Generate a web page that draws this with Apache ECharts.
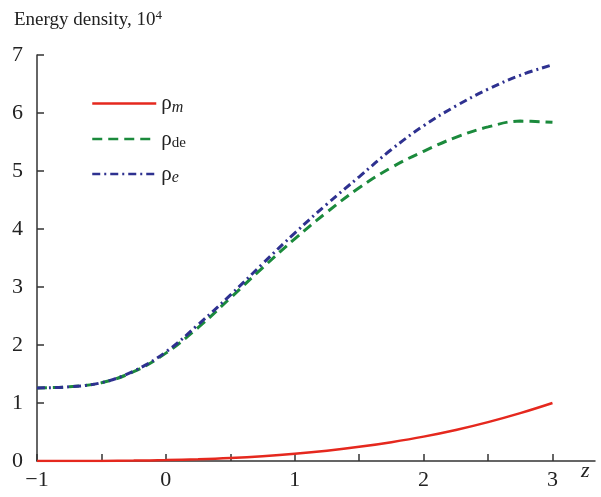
<!DOCTYPE html>
<html><head><meta charset="utf-8">
<script src="https://cdn.jsdelivr.net/npm/echarts@6/dist/echarts.min.js"></script>
<style>html,body{margin:0;padding:0;background:#fff}#c{width:601px;height:497px}</style>
</head><body><div id="c"></div>
<script>
const zValues = [-1, -0.75, -0.5, -0.25, 0, 0.25, 0.5, 0.75, 1, 1.25, 1.5, 1.75, 2, 2.25, 2.5, 2.75, 3];
const rhoM  = [0, 0.0005, 0.002, 0.007, 0.016, 0.031, 0.053, 0.084, 0.125, 0.178, 0.244, 0.325, 0.42, 0.534, 0.67, 0.825, 1.0];
const rhoDE = [1.26, 1.28, 1.35, 1.54, 1.86, 2.30, 2.81, 3.33, 3.83, 4.29, 4.71, 5.06, 5.34, 5.58, 5.76, 5.86, 5.84];
const rhoE  = [1.26, 1.28, 1.35, 1.55, 1.88, 2.35, 2.86, 3.40, 3.93, 4.43, 4.90, 5.37, 5.78, 6.12, 6.41, 6.65, 6.83];
const xTicks = [-1, -0.5, 0, 0.5, 1, 1.5, 2, 2.5, 3];
const xLabels = [-1, 0, 1, 2, 3];
const seriesNames = ['rho_m', 'rho_de', 'rho_e'];

const pair = (xs, ys) => xs.map((x, i) => [x, ys[i]]);
const serif = '"Liberation Serif", "DejaVu Serif", serif';
const chart = echarts.init(document.getElementById('c'));
chart.setOption({
  animation: false,
  grid: {left: 37, right: 6, top: 55, bottom: 36},
  title: {
    text: '{a|Energy density, 10}{s|4}',
    left: 9, top: 4,
    textStyle: {fontWeight: 'normal', rich: {
      a: {fontFamily: serif, fontSize: 19, fontWeight: 'normal', color: '#222'},
      s: {fontFamily: serif, fontSize: 13, fontWeight: 'normal', color: '#222', padding: [0, 0, 9, 0]}
    }}
  },
  legend: {
    orient: 'vertical', left: 86, top: 88, itemWidth: 64, itemHeight: 14, itemGap: 13,
    data: seriesNames,
    itemStyle: {opacity: 0},
    lineStyle: {width: 2.5},
    formatter: function (n) {
      if (n === 'rho_m') return '{r|ρ}{si|m}';
      if (n === 'rho_de') return '{r|ρ}{s|de}';
      return '{r|ρ}{si|e}';
    },
    textStyle: {rich: {
      r: {fontFamily: serif, fontSize: 21, color: '#222'},
      si: {fontFamily: serif, fontSize: 16, fontStyle: 'italic', color: '#222', padding: [8, 0, 0, 0]},
      s: {fontFamily: serif, fontSize: 15, color: '#222', padding: [8, 0, 0, 0]}
    }}
  },
  xAxis: {
    type: 'value', min: -1, max: 3.33,
    axisLine: {onZero: false, lineStyle: {color: '#333', width: 1.5}},
    axisTick: {show: true, inside: true, length: 7, customValues: xTicks, lineStyle: {color: '#333', width: 1.5}},
    splitLine: {show: false},
    axisLabel: {
      customValues: xLabels, margin: 8,
      fontFamily: serif, fontSize: 22, color: '#222',
      formatter: v => (v < 0 ? '\u2212' + Math.abs(v) : String(v))
    }
  },
  yAxis: {
    type: 'value', min: 0, max: 7, interval: 1,
    axisLine: {show: true, onZero: false, lineStyle: {color: '#333', width: 1.5}},
    axisTick: {show: true, inside: true, length: 7, lineStyle: {color: '#333', width: 1.5}},
    splitLine: {show: false},
    axisLabel: {margin: 14, fontFamily: serif, fontSize: 22, color: '#222'}
  },
  graphic: [{
    type: 'text', left: 581, top: 460,
    style: {text: 'z', font: 'italic 22px "Liberation Serif", serif', fill: '#222'}
  }],
  series: [
    {name: 'rho_m', type: 'line', smooth: 0.4, symbol: 'none', data: pair(zValues, rhoM),
      lineStyle: {color: '#e5281e', width: 2.5}, itemStyle: {color: '#e5281e'}},
    {name: 'rho_de', type: 'line', smooth: 0.4, symbol: 'none', data: pair(zValues, rhoDE),
      lineStyle: {color: '#1b8a3c', width: 3, type: [10, 6]}, itemStyle: {color: '#1b8a3c'}},
    {name: 'rho_e', type: 'line', smooth: 0.4, symbol: 'none', data: pair(zValues, rhoE),
      lineStyle: {color: '#2e3190', width: 3, type: [8, 4, 2, 4]}, itemStyle: {color: '#2e3190'}}
  ]
});
</script></body></html>
